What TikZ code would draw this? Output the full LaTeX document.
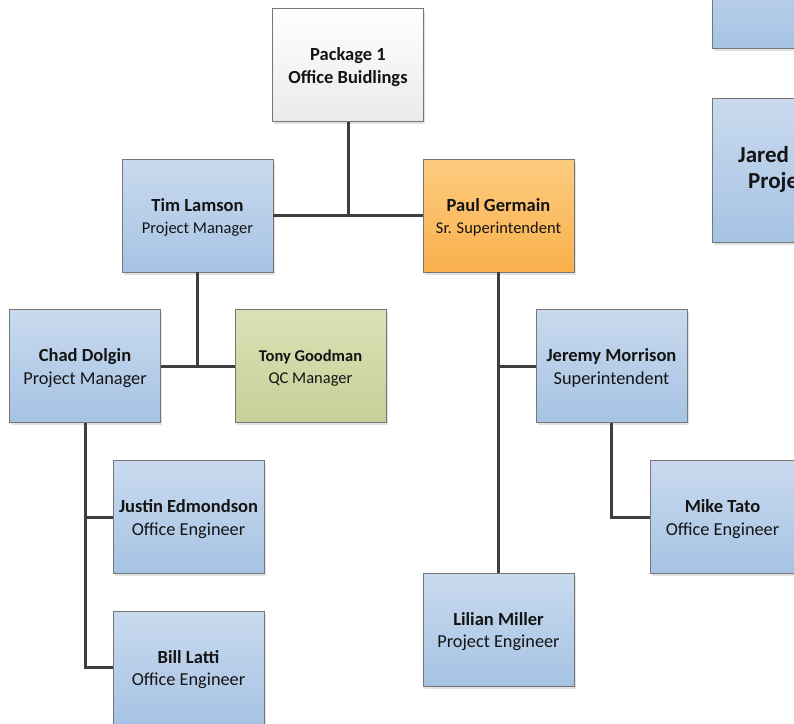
\documentclass[tikz,border=0pt]{standalone}
\usepackage{fontspec}
\setmainfont{Carlito}
\usetikzlibrary{shadows}

\definecolor{boxline}{RGB}{118,118,118}
\definecolor{textc}{RGB}{20,20,20}
\definecolor{connc}{RGB}{62,62,62}
\definecolor{blueT}{RGB}{201,218,238}
\definecolor{blueB}{RGB}{166,195,228}
\definecolor{orangeT}{RGB}{253,204,128}
\definecolor{orangeB}{RGB}{249,176,76}
\definecolor{greenT}{RGB}{219,225,182}
\definecolor{greenB}{RGB}{198,208,152}
\definecolor{grayT}{RGB}{255,255,255}
\definecolor{grayB}{RGB}{234,234,234}

\tikzset{
  box/.style={rectangle, draw=boxline, line width=0.8pt,
    minimum width=151pt, minimum height=113pt, inner sep=0pt,
    drop shadow={shadow xshift=1.5pt, shadow yshift=-2.5pt, opacity=0.25, fill=black!45}},
  bluebox/.style={box, top color=blueT, bottom color=blueB},
  orangebox/.style={box, top color=orangeT, bottom color=orangeB},
  greenbox/.style={box, top color=greenT, bottom color=greenB},
  graybox/.style={box, top color=grayT, bottom color=grayB},
  boxtext/.style={align=center, text=textc, inner sep=0pt, yshift=-2pt},
  bigtext/.style={boxtext, font=\fontsize{18.3}{22.5}\selectfont},
  smalltext/.style={boxtext, font=\fontsize{16.5}{22.5}\selectfont},
  jaredtext/.style={anchor=base west, text=textc, inner sep=0pt,
    font=\fontsize{23}{26}\selectfont\bfseries},
  conn/.style={draw=connc, line width=3pt}
}
\newcommand\nm[1]{{\fontsize{18.5}{22.5}\selectfont\bfseries #1}}
\newcommand\nmsmall[1]{{\fontsize{16.5}{22.5}\selectfont\bfseries #1}}
% a box and its two-line caption: box style, name, centre, text style, caption
\newcommand\person[5]{%
  \node[#1] (#2) at #3 {};
  \node[#4] (#2-text) at (#2.center) {#5};}

\begin{document}
\begin{tikzpicture}[x=1pt, y=-1pt]
  \useasboundingbox (0,0) rectangle (794,723);
  \fill[white] (0,0) rectangle (794,723);

  % boxes running off the right edge of the page
  \node[bluebox, minimum width=160pt] (topright) at (792,-8.5) {};
  \node[bluebox, minimum width=160pt, minimum height=144pt] (jared) at (792,170) {};
  \node[jaredtext] (jaredname) at (738,162) {Jared};
  \node[jaredtext] (jaredrole) at (748,188) {Proje};

  % junction points of the connectors
  \coordinate (j1) at (348,215.5);
  \coordinate (j2) at (197.5,366);
  \coordinate (j3) at (498.5,366);
  \coordinate (j4) at (611.5,517);
  \coordinate (j5) at (85,517);
  \coordinate (j6) at (85,667.5);

  \person{graybox}{pkg}{(348,65)}{bigtext}{\nm{Package 1}\\\nm{Office Buidlings}}
  \person{bluebox}{tim}{(197.5,215.5)}{smalltext}{\nm{Tim Lamson}\\Project Manager}
  \person{orangebox}{paul}{(498.5,215.5)}{smalltext}{\nm{Paul Germain}\\Sr. Superintendent}
  \person{bluebox}{chad}{(85,366)}{bigtext}{\nm{Chad Dolgin}\\Project Manager}
  \person{greenbox}{tony}{(310.5,366)}{smalltext}{\nmsmall{Tony Goodman}\\QC Manager}
  \person{bluebox}{jeremy}{(611.5,366)}{bigtext}{\nm{Jeremy Morrison}\\Superintendent}
  \person{bluebox}{justin}{(188.5,517)}{bigtext}{\nm{Justin Edmondson}\\Office Engineer}
  \person{bluebox}{bill}{(188.5,667.5)}{bigtext}{\nm{Bill Latti}\\Office Engineer}
  \person{bluebox}{lilian}{(498.5,629.5)}{bigtext}{\nm{Lilian Miller}\\Project Engineer}
  \person{bluebox, minimum width=145pt}{mike}{(722.5,517)}{bigtext}{\nm{Mike Tato}\\Office Engineer}

  \draw[conn] (pkg.south) -- (j1);
  \draw[conn] (tim.east) -- (paul.west);
  \draw[conn] (tim.south) -- (j2);
  \draw[conn] (chad.east) -- (tony.west);
  \draw[conn] (paul.south) -- (lilian.north);
  \draw[conn] (j3) -- (jeremy.west);
  \draw[conn] (jeremy.south) -- (j4) -- (mike.west);
  \draw[conn] (chad.south) -- (j6) -- (bill.west);
  \draw[conn] (j5) -- (justin.west);
\end{tikzpicture}
\end{document}
